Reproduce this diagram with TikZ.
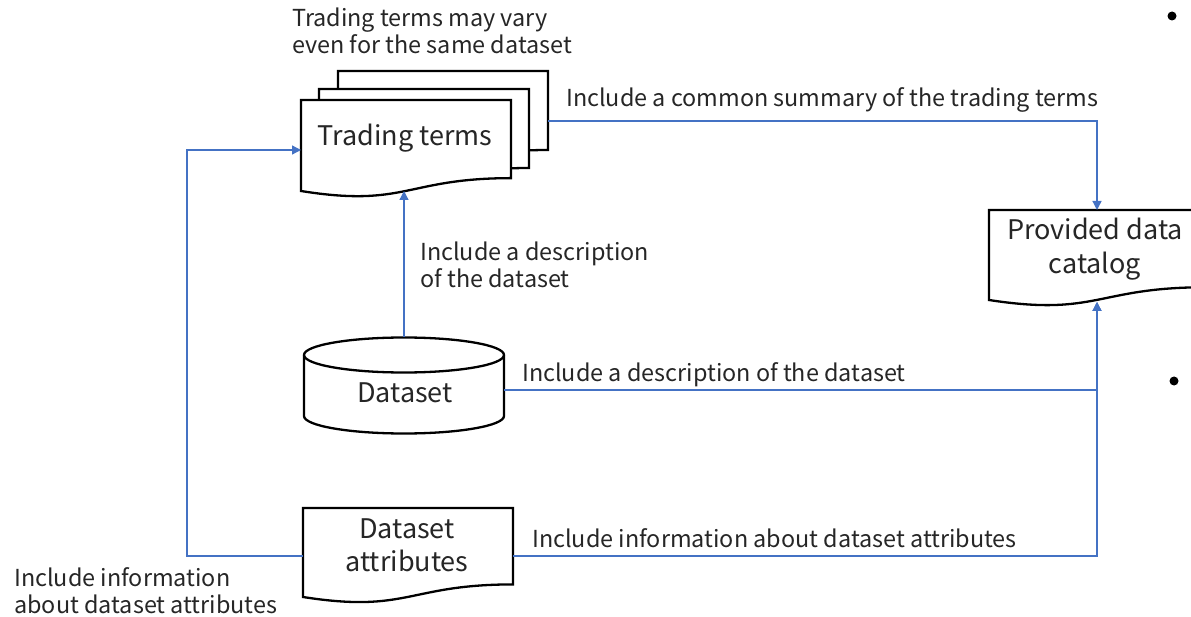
\documentclass[tikz,border=0pt]{standalone}
\usepackage{fontspec}
\setmainfont{Noto Sans CJK JP}
\usetikzlibrary{calc,arrows.meta}
\definecolor{linkblue}{HTML}{4472C4}
\definecolor{inktext}{HTML}{262626}

% Flow-chart "document" outline drawn over a borderless node of the same size
\newcommand\docoutline[1]{%
  \draw[outline] let \p1=(#1.south west), \p2=(#1.north east), \n1={\y2-\y1} in
    (\x1,\y2) -- (\x2,\y2) -- (\x2,{\y1+0.1413*\n1})
    .. controls ({(\x1+\x2)/2},{\y1+0.1413*\n1}) and ({(\x1+\x2)/2},{\y1-0.1852*\n1}) ..
    (\x1,\y1) -- cycle;}

\tikzset{
  outline/.style={draw=black, fill=white, line width=2.3pt, line join=miter},
  link/.style={draw=linkblue, line width=1.3pt},
  arrow/.style={link, -{Triangle[length=9pt,width=9pt]}},
  shapebox/.style={draw=none, inner sep=0pt, outer sep=0pt},
  lbl/.style={font=\fontsize{23.4}{27}\selectfont, text=inktext, align=left, inner sep=0pt},
  title/.style={font=\fontsize{27}{33.5}\selectfont, text=inktext, align=center, inner sep=0pt},
}

\begin{document}
\begin{tikzpicture}[x=1pt,y=-1pt]
\useasboundingbox (0,0) rectangle (1191,617);

% stacked trading-terms documents
\node[shapebox, minimum width=210pt, minimum height=92pt] (back) at (443,117) {};
\node[shapebox, minimum width=210pt, minimum height=92pt] (middle) at (424,135) {};
\node[shapebox, minimum width=210pt, minimum height=91pt] (front) at (406,145.5) {};
\docoutline{back}
\docoutline{middle}
\docoutline{front}
\node[title] (tttext) at (405,138) {Trading terms};

% provided data catalog
\node[shapebox, minimum width=216pt, minimum height=90pt] (cat) at (1097,255) {};
\docoutline{cat}
\node[title] (cattext) at (1095,249) {Provided data\\catalog};

% dataset attributes
\node[shapebox, minimum width=210pt, minimum height=89pt] (attr) at (408,552.5) {};
\docoutline{attr}
\node[title] (attrtext) at (407,545.5) {Dataset\\attributes};

% dataset cylinder
\node[shapebox, minimum width=200pt, minimum height=97pt] (ds) at (404,385.5) {};
\draw[outline] (304,355) -- (304,416) arc[start angle=180, end angle=360, x radius=100pt, y radius=17.5pt]
  -- (504,355) arc[start angle=0, end angle=180, x radius=100pt, y radius=17.5pt] -- cycle;
\draw[outline, fill=none] (304,355) arc[start angle=180, end angle=360, x radius=100pt, y radius=17.5pt];
\node[title] (dstext) at (405,393) {Dataset};

% connectors
\draw[arrow] (ds.north) -- (ds.north |- front.south);
\draw[arrow] ([yshift=-4pt]back.east) -| (cat.north);
\draw[arrow] ([yshift=-4.5pt]ds.east) -| ([yshift=-2pt]cat.south);
\draw[arrow] ([yshift=-3.5pt]attr.east) -| ([yshift=-2pt]cat.south);
\draw[arrow] ([yshift=-3.5pt]attr.west) -- ++(-116,0) |- ([yshift=-4.5pt]front.west);

% connector labels
\node[lbl, anchor=west] (l0) at (292,31) {Trading terms may vary\\even for the same dataset};
\node[lbl, anchor=west] (l1) at (566,100) {Include a common summary of the trading terms};
\node[lbl, anchor=west] (l2) at (420,265) {Include a description\\of the dataset};
\node[lbl, anchor=west] (l3) at (522,375) {Include a description of the dataset};
\node[lbl, anchor=west] (l4) at (532,538) {Include information about dataset attributes};
\node[lbl, anchor=west] (l5) at (14,591) {Include information\\about dataset attributes};

% list bullets at the right margin
\fill (1172,16) circle[radius=4.5pt];
\fill (1174,381) circle[radius=4.5pt];
\end{tikzpicture}
\end{document}
